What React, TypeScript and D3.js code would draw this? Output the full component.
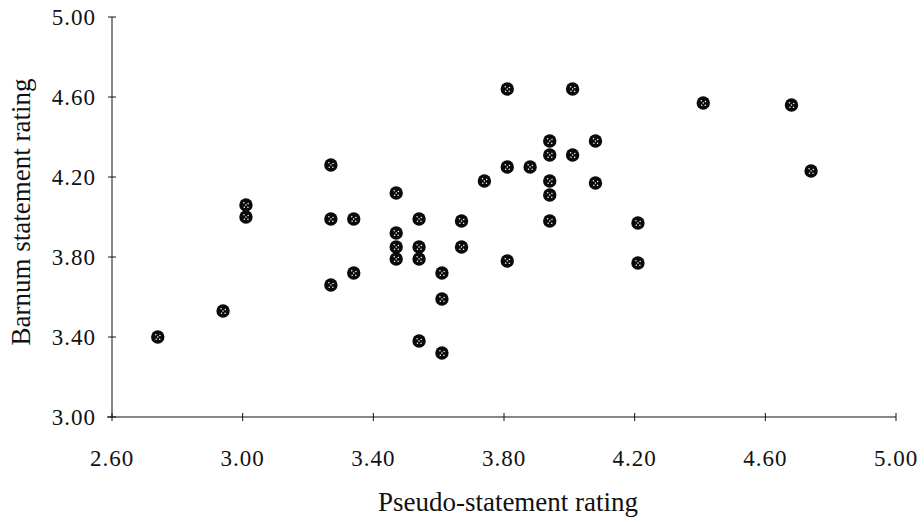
import * as d3 from 'd3';

const WIDTH = 924;
const HEIGHT = 522;

// pseudo-statement rating (x) and Barnum statement rating (y)
const pseudoRating = [
  2.74, 2.94, 3.01, 3.01, 3.27, 3.27, 3.27, 3.34, 3.34, 3.47, 3.47, 3.47, 3.47, 3.54,
  3.54, 3.54, 3.54, 3.61, 3.61, 3.61, 3.67, 3.67, 3.74, 3.81, 3.81, 3.81, 3.88, 3.94,
  3.94, 3.94, 3.94, 3.94, 4.01, 4.01, 4.08, 4.08, 4.21, 4.21, 4.41, 4.68, 4.74,
];
const barnumRating = [
  3.4, 3.53, 4.06, 4.0, 4.26, 3.99, 3.66, 3.99, 3.72, 4.12, 3.92, 3.85, 3.79, 3.99,
  3.85, 3.79, 3.38, 3.72, 3.59, 3.32, 3.98, 3.85, 4.18, 4.64, 4.25, 3.78, 4.25, 4.38,
  4.31, 4.18, 4.11, 3.98, 4.31, 4.64, 4.38, 4.17, 3.97, 3.77, 4.57, 4.56, 4.23,
];

const xTicks = [2.6, 3.0, 3.4, 3.8, 4.2, 4.6, 5.0];
const yTicks = [3.0, 3.4, 3.8, 4.2, 4.6, 5.0];

const X_LABEL = 'Pseudo-statement rating';
const Y_LABEL = 'Barnum statement rating';

const FONT = '"Liberation Serif", "Times New Roman", serif';
const INK = '#111';

// little white specks on each dot, like the hatched marker in the print
const SPECKS = [
  [-2, -2.2],
  [2.2, -1.6],
  [-1.6, 2.2],
  [2, 2.2],
  [0, 0],
];

export default function App() {
  const x = d3.scaleLinear().domain([2.6, 5.0]).range([112, 896]);
  const y = d3.scaleLinear().domain([3.0, 5.0]).range([417, 17]);

  const points = pseudoRating.map((v, i) => ({ x: v, y: barnumRating[i] }));

  return (
    <svg
      width={WIDTH}
      height={HEIGHT}
      style={{ position: 'absolute', left: 0, top: 0, background: '#fff' }}
      fontFamily={FONT}
    >
      {/* axes */}
      <line x1={x(2.6)} x2={x(2.6)} y1={y(5.0)} y2={y(3.0)} stroke={INK} strokeWidth={1} />
      <line x1={x(2.6) - 5} x2={x(5.0)} y1={y(3.0)} y2={y(3.0)} stroke={INK} strokeWidth={1} />

      {yTicks.map((t) => (
        <g key={`y${t}`}>
          <line x1={x(2.6) - 4} x2={x(2.6) + 4} y1={y(t)} y2={y(t)} stroke={INK} />
          <text
            x={96}
            y={y(t)}
            textAnchor="end"
            dominantBaseline="central"
            fontSize={23}
            letterSpacing={1}
            fill={INK}
          >
            {t.toFixed(2)}
          </text>
        </g>
      ))}

      {xTicks.map((t) => (
        <g key={`x${t}`}>
          <line x1={x(t)} x2={x(t)} y1={y(3.0) - 4} y2={y(3.0) + 4} stroke={INK} />
          <text x={x(t)} y={466} textAnchor="middle" fontSize={23} letterSpacing={1} fill={INK}>
            {t.toFixed(2)}
          </text>
        </g>
      ))}

      {/* points */}
      {points.map((p, i) => (
        <g key={i} transform={`translate(${x(p.x)},${y(p.y)})`}>
          <circle r={6.7} fill="#0a0a0a" />
          {SPECKS.map(([dx, dy], j) => (
            <circle key={j} cx={dx} cy={dy} r={0.75} fill="#fff" />
          ))}
        </g>
      ))}

      {/* axis titles */}
      <text x={508} y={511} textAnchor="middle" fontSize={27} fill={INK}>
        {X_LABEL}
      </text>
      <text
        transform="translate(30,212) rotate(-90)"
        textAnchor="middle"
        fontSize={27}
        fill={INK}
      >
        {Y_LABEL}
      </text>
    </svg>
  );
}
